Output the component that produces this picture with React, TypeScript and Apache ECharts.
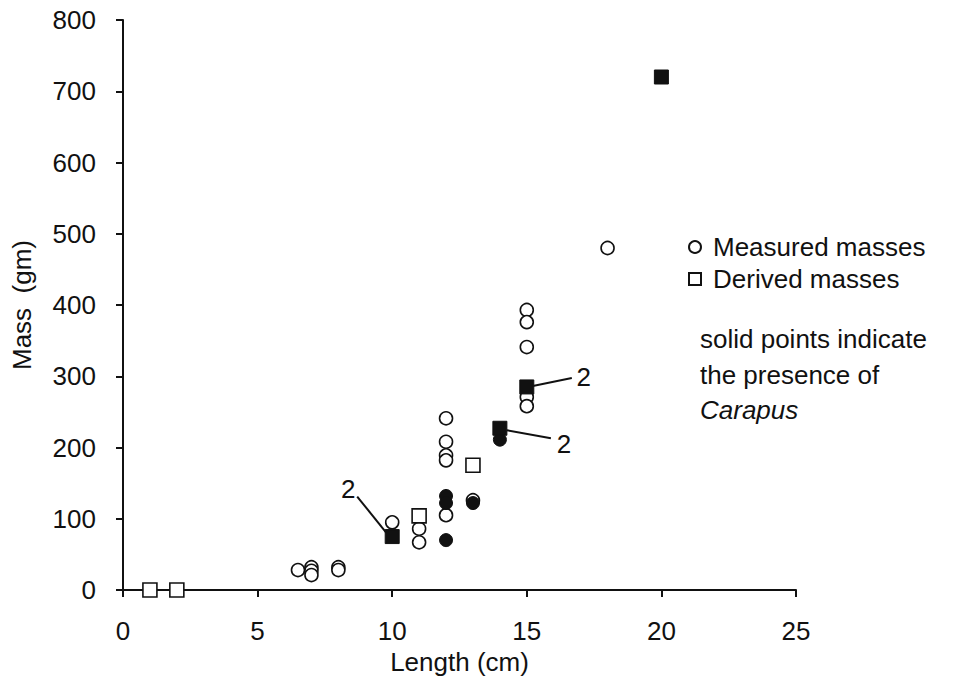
import React, { useEffect, useRef } from "react";
import * as echarts from "echarts";

// Length (cm), Mass (gm)
const measuredOpen: [number, number][] = [
  [6.5, 28], [7, 32], [7, 27], [7, 21], [8, 32], [8, 28],
  [10, 95], [11, 86], [11, 67],
  [12, 241], [12, 208], [12, 189], [12, 182], [12, 105],
  [13, 126],
  [15, 393], [15, 376], [15, 341], [15, 271], [15, 258],
  [18, 480],
];
const measuredSolid: [number, number][] = [
  [12, 132], [12, 122], [12, 70], [13, 122], [14, 211],
];
const derivedOpen: [number, number][] = [
  [1, 0], [2, 0], [11, 104], [13, 175],
];
const derivedSolid: [number, number][] = [
  [10, 75], [14, 227], [15, 285], [20, 720],
];
// points labelled with a count
const countLabels: { point: [number, number]; text: string }[] = [
  { point: [10, 75], text: "2" },
  { point: [14, 227], text: "2" },
  { point: [15, 285], text: "2" },
];
const xTicks = { min: 0, max: 25, interval: 5 };
const yTicks = { min: 0, max: 800, interval: 100 };
const noteLines = ["solid points indicate", "the presence of", "Carapus"];

const FONT = "'Liberation Sans', Arial, Helvetica, sans-serif";
const INK = "#111111";

// pixel offsets of the count-label leader lines relative to the point
const labelOffsets = [
  { l1: [-6, -4], l2: [-35, -40], t: [-44, -48] },
  { l1: [7, 2], l2: [51, 10], t: [64, 16] },
  { l1: [6, -1], l2: [45, -9], t: [57, -10] },
];

export default function App() {
  const ref = useRef<HTMLDivElement>(null);
  useEffect(() => {
    document.body.style.margin = "0";
    if (!ref.current) return;
    const chart = echarts.init(ref.current, null, { renderer: "svg" });
    const openStyle = { color: "#fff", borderColor: INK, borderWidth: 1.6, opacity: 1 };
    const solidStyle = { color: INK, borderColor: INK, borderWidth: 1, opacity: 1 };
    chart.setOption({
      animation: false,
      backgroundColor: "#fff",
      grid: { left: 123, right: 166, top: 20, bottom: 97 },
      legend: {
        data: ["Measured masses", "Derived masses"],
        orient: "vertical",
        left: 683,
        top: 229,
        itemWidth: 12,
        itemHeight: 12,
        itemGap: 6,
        selectedMode: false,
        textStyle: { fontSize: 26, fontFamily: FONT, color: INK, padding: [0, 0, 0, 7] },
      },
      xAxis: {
        type: "value",
        min: xTicks.min,
        max: xTicks.max,
        interval: xTicks.interval,
        name: "Length (cm)",
        nameLocation: "middle",
        nameGap: 52,
        nameTextStyle: { fontSize: 26, fontFamily: FONT, color: INK },
        axisLine: { lineStyle: { color: INK, width: 2 } },
        axisTick: { show: true, length: 7, lineStyle: { color: INK, width: 2 } },
        axisLabel: { fontSize: 26, fontFamily: FONT, color: INK, margin: 28 },
        splitLine: { show: false },
      },
      yAxis: {
        type: "value",
        min: yTicks.min,
        max: yTicks.max,
        interval: yTicks.interval,
        name: "Mass  (gm)",
        nameLocation: "middle",
        nameGap: 88,
        nameTextStyle: { fontSize: 26, fontFamily: FONT, color: INK },
        axisLine: { show: true, lineStyle: { color: INK, width: 2 } },
        axisTick: { show: true, length: 7, lineStyle: { color: INK, width: 2 } },
        axisLabel: { fontSize: 26, fontFamily: FONT, color: INK, margin: 27 },
        splitLine: { show: false },
      },
      series: [
        {
          name: "Measured masses",
          type: "scatter",
          symbol: "circle",
          symbolSize: 13,
          itemStyle: openStyle,
          data: measuredOpen,
          z: 2,
        },
        {
          name: "Derived masses",
          type: "scatter",
          symbol: "rect",
          symbolSize: 14,
          itemStyle: openStyle,
          data: derivedOpen,
          z: 2,
        },
        {
          name: "Measured masses (Carapus)",
          type: "scatter",
          symbol: "circle",
          symbolSize: 13,
          itemStyle: solidStyle,
          data: measuredSolid,
          z: 3,
        },
        {
          name: "Derived masses (Carapus)",
          type: "scatter",
          symbol: "rect",
          symbolSize: 14,
          itemStyle: solidStyle,
          data: derivedSolid,
          z: 3,
        },
      ],
    });

    const graphics: any[] = [];
    countLabels.forEach((c, i) => {
      const p = chart.convertToPixel({ xAxisIndex: 0, yAxisIndex: 0 }, c.point) as number[];
      const o = labelOffsets[i];
      graphics.push({
        type: "line",
        z: 10,
        shape: { x1: p[0] + o.l1[0], y1: p[1] + o.l1[1], x2: p[0] + o.l2[0], y2: p[1] + o.l2[1] },
        style: { stroke: INK, lineWidth: 2 },
      });
      graphics.push({
        type: "text",
        z: 10,
        x: p[0] + o.t[0],
        y: p[1] + o.t[1],
        style: {
          text: c.text,
          fontSize: 26,
          fontFamily: FONT,
          fill: INK,
          align: "center",
          verticalAlign: "middle",
        },
      });
    });
    const noteY = [339, 375, 410];
    noteLines.forEach((t, i) => {
      graphics.push({
        type: "text",
        x: 700,
        y: noteY[i],
        style: {
          text: t,
          fontSize: 26,
          fontFamily: FONT,
          fontStyle: i === 2 ? "italic" : "normal",
          fill: INK,
          align: "left",
          verticalAlign: "middle",
        },
      });
    });
    chart.setOption({ graphic: graphics });

    return () => chart.dispose();
  }, []);
  return <div ref={ref} style={{ width: 962, height: 687 }} />;
}
